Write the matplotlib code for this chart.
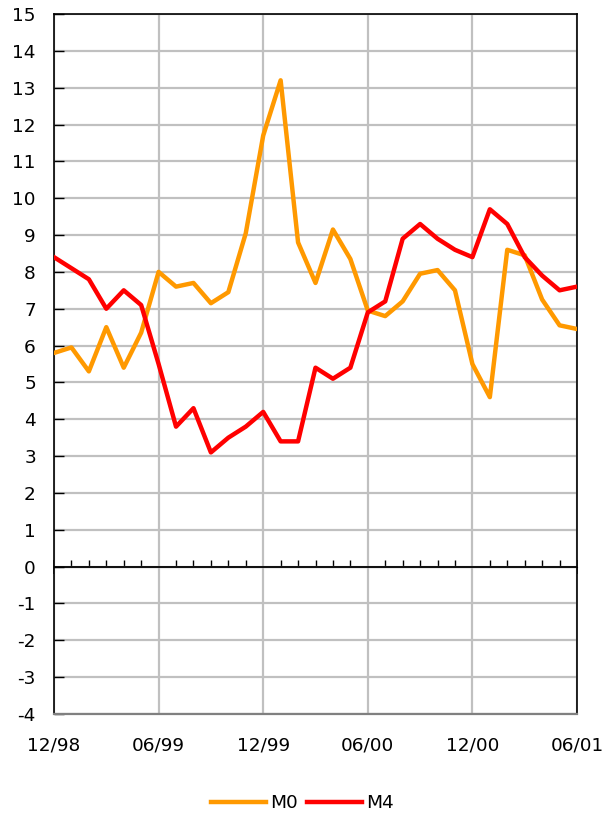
import numpy as np
import matplotlib
matplotlib.use("Agg")
import matplotlib.pyplot as plt

plt.rcParams['font.family'] = ['DejaVu Sans']

# Monthly growth rates, Dec 1998 .. Jun 2001
m0 = [5.8, 5.95, 5.3, 6.5, 5.4, 6.35, 8.0, 7.6, 7.7, 7.15, 7.45, 9.05,
      11.7, 13.2, 8.8, 7.7, 9.15, 8.35, 6.95, 6.8, 7.2, 7.95, 8.05, 7.5,
      5.5, 4.6, 8.6, 8.45, 7.25, 6.55, 6.45]
m4 = [8.4, 8.1, 7.8, 7.0, 7.5, 7.1, 5.5, 3.8, 4.3, 3.1, 3.5, 3.8,
      4.2, 3.4, 3.4, 5.4, 5.1, 5.4, 6.9, 7.2, 8.9, 9.3, 8.9, 8.6,
      8.4, 9.7, 9.3, 8.4, 7.9, 7.5, 7.6]
date_labels = ['12/98', '06/99', '12/99', '06/00', '12/00', '06/01']
y_ticks = list(range(-4, 16))

months = np.arange(len(m0))
major_pos = np.arange(0, len(m0), 6)

fig = plt.figure(figsize=(6.15, 8.16), dpi=100)
ax = fig.add_axes([54 / 615, 1 - 714 / 816, (577 - 54) / 615, (714 - 14) / 816])

ax.plot(months, m0, color='#FF9900', lw=3.2, label='M0', zorder=4)
ax.plot(months, m4, color='#FF0000', lw=3.2, label='M4', zorder=4)

ax.set_xlim(0, len(m0) - 1)
ax.set_ylim(-4, 15)
ax.set_yticks(y_ticks)
ax.set_yticklabels([str(v) for v in y_ticks])
ax.set_xticks(major_pos)
ax.set_xticklabels(date_labels)

ax.grid(True, color='#C0C0C0', lw=1.6)
ax.set_axisbelow(True)

ax.tick_params(axis='y', direction='in', length=7, width=1, color='black',
               labelsize=13.3, pad=13)
ax.tick_params(axis='x', length=0, labelsize=13.3, pad=16)

for side in ('left', 'top', 'right'):
    ax.spines[side].set_color('black')
    ax.spines[side].set_linewidth(1.2)
ax.spines['bottom'].set_color('#808080')
ax.spines['bottom'].set_linewidth(1.6)

# Zero line carrying the monthly tick marks
ax.axhline(0, color='black', lw=1.3, zorder=3)
zero_axis = ax.secondary_xaxis(4 / 19)
zero_axis.set_xticks(major_pos)
zero_axis.set_xticks(months, minor=True)
zero_axis.tick_params(which='major', direction='inout', length=10, width=1.2,
                      color='#404040', labelbottom=False)
zero_axis.tick_params(which='minor', direction='in', length=5, width=1,
                      color='black', labelbottom=False)

fig.legend(loc='center', bbox_to_anchor=(302 / 615, 1 - 803 / 816), ncol=2,
           frameon=False, fontsize=13.3, handlelength=3.0, handletextpad=0.2,
           columnspacing=0.5, borderaxespad=0)

fig.savefig('out.png', dpi=100)
